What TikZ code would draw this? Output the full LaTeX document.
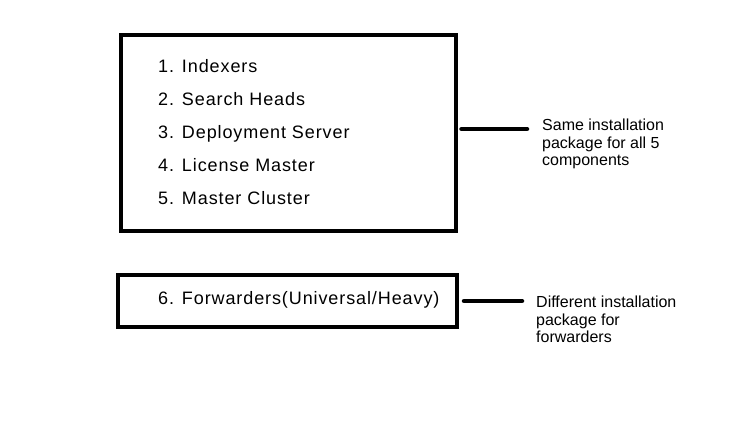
\documentclass[tikz,border=0pt]{standalone}
\usepackage{fontspec}
\setmainfont{Liberation Sans}
\newfontfamily\listfont[LetterSpace=5]{Liberation Sans}
\usetikzlibrary{positioning,calc}

\begin{document}
\begin{tikzpicture}[x=1pt, y=-1pt,
    box/.style={draw, line width=4pt, inner sep=0pt},
    item/.style={anchor=base west, inner sep=0pt, font=\listfont\fontsize{18}{20}\selectfont},
    note/.style={anchor=north west, inner sep=0pt, align=left, font=\fontsize{16}{17.5}\selectfont},
    link/.style={line width=4.5pt, line cap=round}]
    \useasboundingbox (0,0) rectangle (729,438);

    % Define the row pitch of the list
    \def\pitch{33}

    % Boxes
    \node[box, minimum width=335pt, minimum height=196pt] (box1) at (288.5,133) {};
    \node[box, minimum width=339pt, minimum height=52pt] (box2) at (287.5,301) {};

    \foreach \name [count=\i] in {Indexers, Search Heads, Deployment Server, License Master, Master Cluster} {
        \node[item] (item\i) at (158, 40 + \i*\pitch) {\i. \name};
    }
    \node[item] (item6) at (158, 305) {6. Forwarders(Universal/Heavy)};

    % Notes
    \node[note] (note1) at (542, 119) {Same installation\\package for all 5\\components};
    \node[note] (note2) at (536, 296) {Different installation\\package for\\forwarders};

    \draw[link] ($(box1.east) + (3.5,-4)$) -- ($(note1.west |- box1.east) + (-15,-4)$);
    \draw[link] ($(box2.east) + (5,0)$) -- ($(note2.west |- box2.east) + (-14,0)$);

\end{tikzpicture}
\end{document}
